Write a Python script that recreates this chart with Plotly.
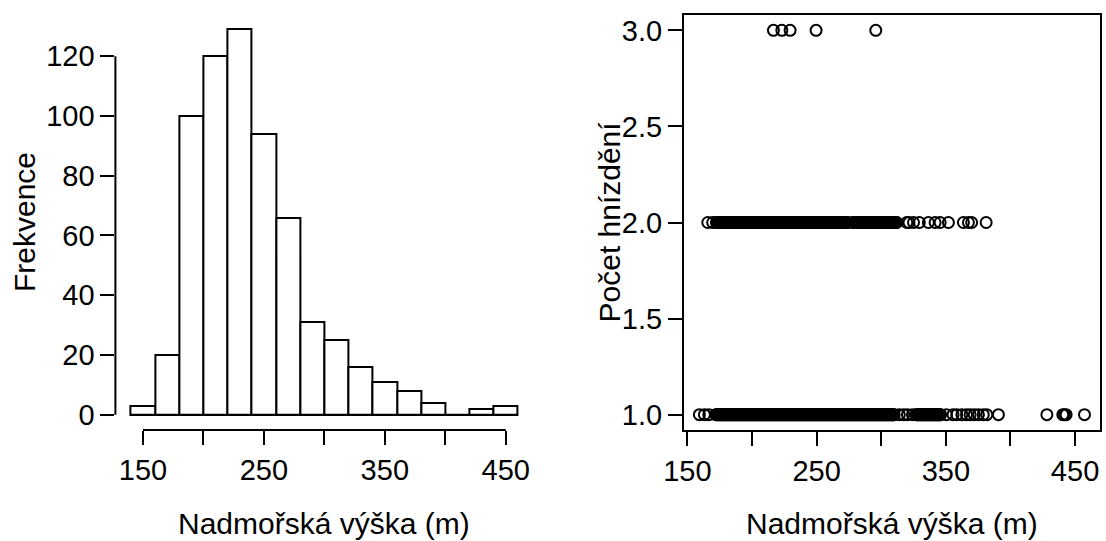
import plotly.graph_objects as go

# ---- data ----
bin_centers = [150, 170, 190, 210, 230, 250, 270, 290, 310, 330, 350, 370, 390, 410, 430, 450]
bin_counts = [3, 20, 100, 120, 129, 94, 66, 31, 25, 16, 11, 8, 4, 0, 2, 3]
bin_width = 20

x_ticks = [150, 200, 250, 300, 350, 400, 450]
x_tick_labels = ["150", "", "250", "", "350", "", "450"]
hist_y_ticks = [0, 20, 40, 60, 80, 100, 120]
scatter_y_ticks = [1.0, 1.5, 2.0, 2.5, 3.0]
scatter_y_labels = ["1.0", "1.5", "2.0", "2.5", "3.0"]

alt_nest3 = [216.6, 223.1, 229.5, 249.6, 295.8]

alt_nest2 = [165.8, 169.6, 172.5, 173.4, 174.2, 175.1, 176, 177.2, 178, 179.1, 180, 181.2, 182,
             183.1, 184, 185.2, 186, 187.1, 188, 189.2, 190, 191.1, 192, 193.2, 194, 195.1, 196,
             197.2, 198, 199.1, 200, 201.2, 202, 203.1, 204, 205.2, 206, 207.1, 208, 209.2, 210,
             211.1, 212, 213.2, 214, 215.1, 216, 217.2, 218, 219.1, 220, 221.2, 222, 223.1, 224,
             225.2, 226, 227.1, 228, 229.2, 230, 231.1, 232, 233.2, 234, 235.1, 236, 237.2, 238,
             239.1, 240, 241.2, 242, 243.1, 244, 245.2, 246, 247.1, 248, 249.2, 250, 251.1, 252,
             253.2, 254, 255.1, 256, 257.2, 258, 259.1, 260, 261.2, 262, 263.1, 264, 265.2, 266,
             267.1, 268, 269.2, 270, 271.1, 272, 273.2, 274, 278, 279.1, 280, 281.2, 282, 283.1,
             284, 285.2, 286, 287.1, 288, 289.2, 290, 291.1, 292, 293.2, 294, 295.1, 296, 297.2,
             298, 299.1, 300, 301.2, 302, 303.1, 304, 305.2, 306, 307.1, 308, 309.2, 310, 311.1,
             312, 319.8, 321.5, 325, 329.5, 336.5, 341.7, 345.6, 352, 363.6, 367.5, 370, 381.2,
             172.9, 173.8, 174.6, 175.6, 176.6, 177.6, 178.5, 179.6, 180.6, 181.6, 182.5, 183.6,
             184.5, 185.6, 186.5, 187.6, 188.6, 189.6, 190.5, 191.6, 192.5, 193.6, 194.5, 195.6,
             196.6, 197.6, 198.5, 199.6, 200.6, 201.6, 202.5, 203.6, 204.5, 205.6, 206.5, 207.6,
             208.6, 209.6, 210.5, 211.6, 212.5, 213.6, 214.5, 215.6, 216.6, 217.6, 218.5, 219.6,
             220.6, 221.6, 222.5, 223.6, 224.5, 225.6, 226.5, 227.6, 228.6, 229.6, 230.5, 231.6,
             232.5, 233.6, 234.5, 235.6, 236.6, 237.6, 238.5, 239.6, 240.6, 241.6, 242.5, 243.6,
             244.5, 245.6, 246.5, 247.6, 248.6, 249.6, 250.5, 251.6, 252.5, 253.6, 254.5, 255.6,
             256.6, 257.6, 258.5, 259.6, 260.6, 261.6, 262.5, 263.6, 264.5, 265.6, 266.5, 267.6,
             268.6, 269.6, 270.5, 271.6, 272.5, 273.6, 278.6, 279.6, 280.5, 281.6, 282.5, 283.6,
             284.5, 285.6, 286.5, 287.6, 288.6, 289.6, 290.5, 291.6, 292.5, 293.6, 294.5, 295.6,
             296.6, 297.6, 298.5, 299.6, 300.6, 301.6, 302.5, 303.6, 304.5, 305.6, 306.5, 307.6,
             308.6, 309.6, 310.5, 311.6]

alt_nest1 = [159.3, 163.2, 166.6, 172, 173.1, 174, 175.2, 176, 177.1, 178, 179.2, 180, 181.1,
             182, 183.2, 184, 185.1, 186, 187.2, 188, 189.1, 190, 191.2, 192, 193.1, 194, 195.2,
             196, 197.1, 198, 199.2, 200, 201.1, 202, 203.2, 204, 205.1, 206, 207.2, 208, 209.1,
             210, 211.2, 212, 213.1, 214, 215.2, 216, 217.1, 218, 219.2, 220, 221.1, 222, 223.2,
             224, 225.1, 226, 227.2, 228, 229.1, 230, 231.2, 232, 233.1, 234, 235.2, 236, 237.1,
             238, 239.2, 240, 241.1, 242, 243.2, 244, 245.1, 246, 247.2, 248, 249.1, 250, 251.2,
             252, 253.1, 254, 255.2, 256, 257.1, 258, 259.2, 260, 261.1, 262, 263.2, 264, 265.1,
             266, 267.2, 268, 269.1, 270, 271.2, 272, 273.1, 274, 275.2, 276, 277.1, 278, 279.2,
             280, 281.1, 282, 283.2, 284, 285.1, 286, 287.2, 288, 289.1, 290, 291.2, 292, 293.1,
             294, 295.2, 296, 297.1, 298, 299.2, 300, 301.1, 302, 303.2, 304, 305.1, 306, 307.2,
             308, 309.1, 310, 314, 317.5, 320.3, 324.2, 327, 328.1, 329, 330.2, 331, 332.1, 333,
             334.2, 335, 336.1, 337, 338.2, 339, 340.1, 341, 342.2, 343, 344.1, 345, 346, 350.5,
             355.6, 358.5, 362.4, 366, 368.8, 372, 375.2, 379, 381.7, 390.7, 428.2, 440.5, 441.8,
             443.1, 457.3,
             172.6, 173.6, 174.5, 175.6, 176.5, 177.6, 178.6, 179.6, 180.5, 181.6, 182.5, 183.6,
             184.6, 185.6, 186.5, 187.6, 188.5, 189.6, 190.6, 191.6, 192.5, 193.6, 194.5, 195.6,
             196.6, 197.6, 198.5, 199.6, 200.5, 201.6, 202.6, 203.6, 204.5, 205.6, 206.5, 207.6,
             208.6, 209.6, 210.5, 211.6, 212.5, 213.6, 214.6, 215.6, 216.5, 217.6, 218.5, 219.6,
             220.6, 221.6, 222.5, 223.6, 224.5, 225.6, 226.6, 227.6, 228.5, 229.6, 230.5, 231.6,
             232.6, 233.6, 234.5, 235.6, 236.5, 237.6, 238.6, 239.6, 240.5, 241.6, 242.5, 243.6,
             244.6, 245.6, 246.5, 247.6, 248.5, 249.6, 250.6, 251.6, 252.5, 253.6, 254.5, 255.6,
             256.6, 257.6, 258.5, 259.6, 260.5, 261.6, 262.6, 263.6, 264.5, 265.6, 266.5, 267.6,
             268.6, 269.6, 270.5, 271.6, 272.5, 273.6, 274.6, 275.6, 276.5, 277.6, 278.5, 279.6,
             280.6, 281.6, 282.5, 283.6, 284.5, 285.6, 286.6, 287.6, 288.5, 289.6, 290.5, 291.6,
             292.6, 293.6, 294.5, 295.6, 296.5, 297.6, 298.6, 299.6, 300.5, 301.6, 302.5, 303.6,
             304.6, 305.6, 306.5, 307.6, 308.5, 309.6, 327.6, 328.6, 329.6, 330.6, 331.6, 332.6,
             333.6, 334.6, 335.6, 336.6, 337.6, 338.6, 339.6, 340.6, 341.6, 342.6, 343.6, 344.6,
             345.5]

FONT = "Liberation Sans, Arial, sans-serif"
FS = 29
FS_TITLE = 30
LW = 2

fig = go.Figure()

fig.add_trace(go.Bar(
    x=bin_centers, y=bin_counts, width=bin_width,
    marker=dict(color="white", line=dict(color="black", width=LW)),
    xaxis="x", yaxis="y", showlegend=False,
))

for xs, yv in ((alt_nest1, 1.0), (alt_nest2, 2.0), (alt_nest3, 3.0)):
    fig.add_trace(go.Scatter(
        x=xs, y=[yv] * len(xs), mode="markers",
        marker=dict(symbol="circle-open", size=11, color="black", line=dict(width=2)),
        xaxis="x2", yaxis="y2", showlegend=False,
    ))

tick_common = dict(ticks="outside", ticklen=14, tickwidth=LW, tickcolor="black",
                   showgrid=False, zeroline=False, automargin=False,
                   tickfont=dict(family=FONT, size=FS, color="black"))

fig.update_layout(
    template="none",
    width=1106, height=541,
    margin=dict(l=0, r=0, t=0, b=0, pad=0),
    paper_bgcolor="white", plot_bgcolor="white",
    bargap=0,
    xaxis=dict(domain=[115.4 / 1106, 533.3 / 1106], range=[127.2, 472.8],
               tickmode="array", tickvals=x_ticks, ticktext=x_tick_labels,
               showline=False, anchor="y", **tick_common),
    yaxis=dict(domain=[1 - 430.1 / 541, 1 - 14 / 541], range=[-5.16, 134.16],
               tickmode="array", tickvals=hist_y_ticks,
               showline=False, anchor="x", **tick_common),
    xaxis2=dict(domain=[684 / 1106, 1100 / 1106], range=[147.4, 469.3],
                tickmode="array", tickvals=x_ticks, ticktext=x_tick_labels,
                showline=True, mirror=True, linewidth=LW, linecolor="black",
                anchor="y2", **tick_common),
    yaxis2=dict(domain=[1 - 430 / 541, 1 - 15 / 541], range=[0.92, 3.08],
                tickmode="array", tickvals=scatter_y_ticks, ticktext=scatter_y_labels,
                showline=True, mirror=True, linewidth=LW, linecolor="black",
                anchor="x2", **tick_common),
)

# R-style axis lines spanning only the tick range (left panel)
fig.add_shape(type="line", xref="x", yref="y domain", x0=x_ticks[0], x1=x_ticks[-1], y0=0, y1=0,
              line=dict(color="black", width=LW))
fig.add_shape(type="line", xref="x domain", yref="y", x0=0, x1=0, y0=hist_y_ticks[0], y1=hist_y_ticks[-1],
              line=dict(color="black", width=LW))
# histogram baseline (bottom edges of the bins, including the empty bin)
fig.add_shape(type="line", xref="x", yref="y",
              x0=bin_centers[0] - bin_width / 2, x1=bin_centers[-1] + bin_width / 2, y0=0, y1=0,
              line=dict(color="black", width=LW))

title_font = dict(family=FONT, size=FS_TITLE, color="black")
fig.add_annotation(text="Nadmořská výška (m)", xref="x domain", yref="paper", x=0.5, y=1 - 523 / 541,
                   showarrow=False, font=title_font, xanchor="center", yanchor="middle")
fig.add_annotation(text="Nadmořská výška (m)", xref="x2 domain", yref="paper", x=0.5, y=1 - 523 / 541,
                   showarrow=False, font=title_font, xanchor="center", yanchor="middle")
fig.add_annotation(text="Frekvence", xref="paper", yref="y domain", x=24 / 1106, y=0.5,
                   showarrow=False, font=title_font, textangle=-90, xanchor="center", yanchor="middle")
fig.add_annotation(text="Počet hnízdění", xref="paper", yref="y2 domain", x=609 / 1106, y=0.5,
                   showarrow=False, font=title_font, textangle=-90, xanchor="center", yanchor="middle")

fig.write_html("out.html")
